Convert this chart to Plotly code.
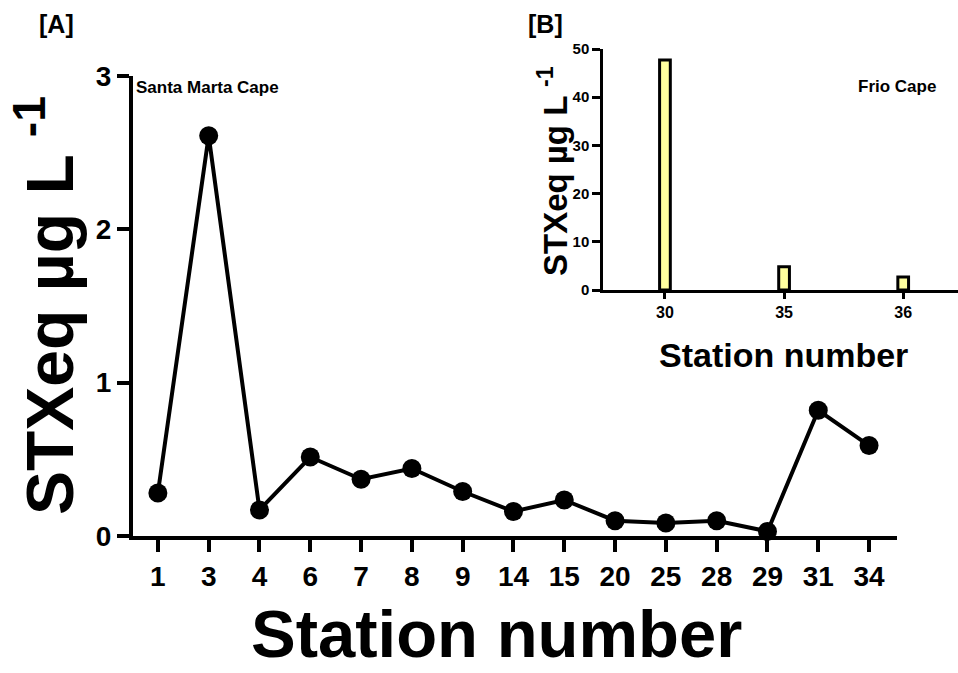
import plotly.graph_objects as go

# ---- data ----
stations_a = ["1", "3", "4", "6", "7", "8", "9", "14", "15", "20", "25", "28", "29", "31", "34"]
stx_a = [0.28, 2.61, 0.17, 0.515, 0.37, 0.44, 0.29, 0.16, 0.235, 0.10, 0.085, 0.10, 0.03, 0.82, 0.59]

stations_b = ["30", "35", "36"]
stx_b = [47.7, 4.8, 2.7]

y_ticks_a = [0, 1, 2, 3]
y_ticks_b = [0, 10, 20, 30, 40, 50]

W, H = 958, 673
FONT = "Liberation Sans, Arial, sans-serif"


def px_x(p):
    return p / W


def px_y(p):
    return 1 - p / H


fig = go.Figure()

fig.add_trace(go.Scatter(
    x=stations_a, y=stx_a, mode="lines+markers",
    line=dict(color="black", width=4),
    marker=dict(color="black", size=19),
    cliponaxis=False, showlegend=False,
    xaxis="x", yaxis="y",
))

fig.add_trace(go.Bar(
    x=stations_b, y=stx_b, width=0.09,
    marker=dict(color="#FFFF9E", line=dict(color="black", width=3)),
    cliponaxis=False, showlegend=False,
    xaxis="x2", yaxis="y2",
))

fig.update_layout(
    width=W, height=H,
    margin=dict(l=0, r=0, t=0, b=0, pad=0, autoexpand=False),
    paper_bgcolor="white", plot_bgcolor="rgba(0,0,0,0)",
    font=dict(family=FONT, color="black"),
    xaxis=dict(
        domain=[px_x(133), px_x(897)],
        type="category", categoryorder="array", categoryarray=stations_a,
        range=[-0.49, 14.55], automargin=False,
        showline=True, linecolor="black", linewidth=4,
        ticks="outside", ticklen=12, tickwidth=4, tickcolor="black",
        tickfont=dict(size=28, weight="bold", family=FONT),
        showgrid=False, zeroline=False, anchor="y",
    ),
    yaxis=dict(
        domain=[px_y(536), px_y(76)],
        range=[0, 3], tickvals=y_ticks_a, automargin=False,
        showline=True, linecolor="black", linewidth=4,
        ticks="outside", ticklen=12, tickwidth=4, tickcolor="black",
        tickfont=dict(size=28, weight="bold", family=FONT),
        showgrid=False, zeroline=False, anchor="x",
    ),
    xaxis2=dict(
        domain=[px_x(603), 1.0],
        type="category", categoryorder="array", categoryarray=stations_b,
        range=[-0.52, 2.46], automargin=False,
        showline=True, linecolor="black", linewidth=2.5,
        ticks="outside", ticklen=6, tickwidth=2.5, tickcolor="black",
        tickfont=dict(size=16, weight="bold", family=FONT),
        showgrid=False, zeroline=False, anchor="y2",
    ),
    yaxis2=dict(
        domain=[px_y(290), px_y(49)],
        range=[0, 50], tickvals=y_ticks_b, automargin=False,
        showline=True, linecolor="black", linewidth=2.5,
        ticks="outside", ticklen=8, tickwidth=2.5, tickcolor="black",
        tickfont=dict(size=15, weight="bold", family=FONT),
        showgrid=False, zeroline=False, anchor="x2",
    ),
)

annotations = [
    dict(text="Station number", x=px_x(497), y=0.0, yanchor="bottom",
         font=dict(size=67, weight="bold")),
    dict(text="STXeq µg L <sup>-1</sup>", x=px_x(45), y=px_y(306), textangle=-90,
         font=dict(size=66, weight="bold")),
    dict(text="Station number", x=px_x(783), y=px_y(355), font=dict(size=34, weight="bold")),
    dict(text="STXeq µg L <sup>-1</sup>", x=px_x(553), y=px_y(171), textangle=-90,
         font=dict(size=33, weight="bold")),
    dict(text="[A]", x=px_x(56), y=px_y(24), font=dict(size=25, weight="bold")),
    dict(text="[B]", x=px_x(545), y=px_y(24), font=dict(size=25, weight="bold")),
    dict(text="Santa Marta Cape", x=px_x(207), y=px_y(88), font=dict(size=17, weight="bold")),
    dict(text="Frio Cape", x=px_x(897), y=px_y(87), font=dict(size=17, weight="bold")),
]
for a in annotations:
    a.setdefault("yanchor", "middle")
    a.update(xref="paper", yref="paper", xanchor="center", showarrow=False)
    a["font"].update(family=FONT, color="black")
fig.update_layout(annotations=annotations)

fig.write_html("out.html")
